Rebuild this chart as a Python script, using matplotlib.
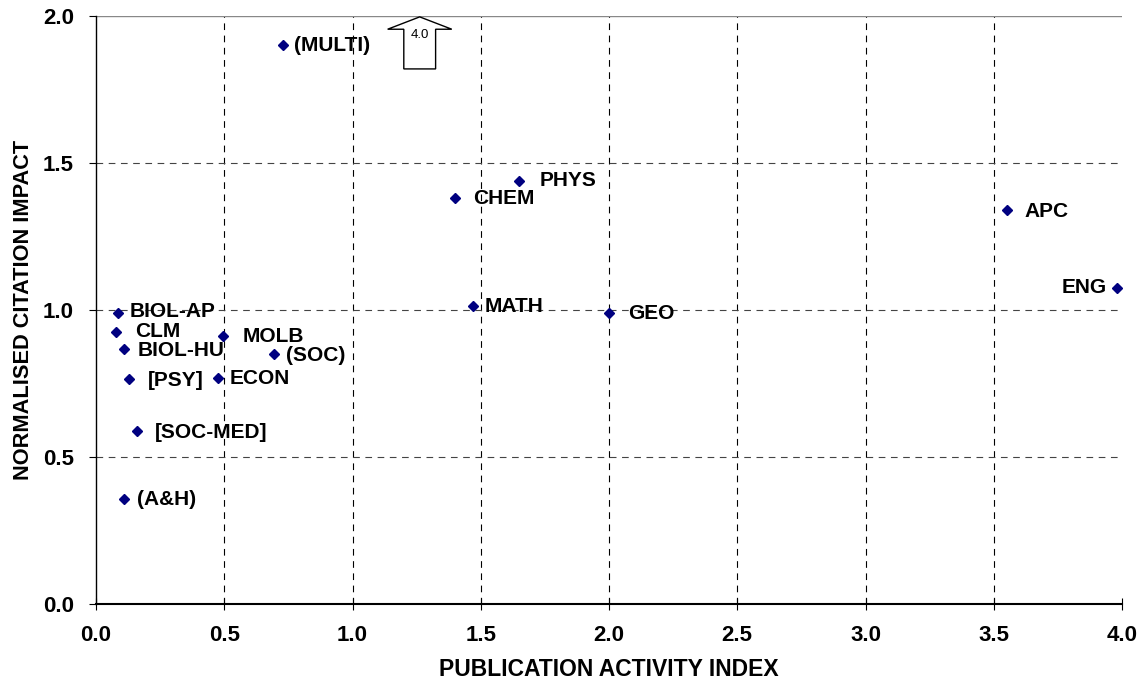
import matplotlib.pyplot as plt
from matplotlib.patches import Polygon

plt.rcParams['font.family'] = ['Liberation Sans', 'DejaVu Sans']

fields = ["(MULTI)", "PHYS", "CHEM", "APC", "ENG", "MATH", "GEO",
          "BIOL-AP", "CLM", "BIOL-HU", "[PSY]", "[SOC-MED]", "(A&H)",
          "MOLB", "ECON", "(SOC)"]
activity = [0.73, 1.65, 1.40, 3.55, 3.98, 1.47, 2.00,
            0.086, 0.077, 0.11, 0.13, 0.158, 0.11,
            0.496, 0.474, 0.695]
impact = [1.90, 1.44, 1.38, 1.34, 1.075, 1.015, 0.99,
          0.99, 0.926, 0.866, 0.765, 0.588, 0.356,
          0.912, 0.768, 0.849]

# label offsets in pixels (dx, dy) from the marker
offsets = {"(MULTI)": (11, 0), "PHYS": (20, 0), "CHEM": (18, 0), "APC": (18, -1),
           "ENG": (-10, 0), "MATH": (12, -1), "GEO": (19, -1), "BIOL-AP": (12, 1),
           "CLM": (19, 0), "BIOL-HU": (13, -1), "[PSY]": (19, -1), "[SOC-MED]": (18, -1),
           "(A&H)": (13, 0), "MOLB": (19, -1), "ECON": (12, 0), "(SOC)": (12, -1)}

fig = plt.figure(figsize=(11.46, 6.94), dpi=100)
ax = fig.add_axes([96 / 1146, 90 / 694, 1026 / 1146, 588 / 694])

ax.set_xlim(0, 4.0)
ax.set_ylim(0, 2.0)

for gx in [0.5, 1.0, 1.5, 2.0, 2.5, 3.0, 3.5]:
    ax.axvline(gx, color='black', linestyle=(0, (6, 5)), linewidth=0.8, zorder=1)
for gy in [0.5, 1.0, 1.5]:
    ax.axhline(gy, color='#444444', linestyle=(0, (6, 5)), linewidth=0.8, zorder=1)
ax.axhline(2.0, color='#888888', linewidth=1.0, zorder=1)

ax.plot(activity, impact, linestyle='none', marker='D', markersize=5,
        color='#000080', zorder=3, clip_on=False)

for name, x, y in zip(fields, activity, impact):
    dx, dy = offsets[name]
    ha = 'right' if dx < 0 else 'left'
    ax.annotate(name, (x, y), xytext=(dx * 0.72, dy * 0.72), textcoords='offset points',
                ha=ha, va='center', fontsize=15, fontweight='bold', zorder=4)

# block arrow marking the off-scale value
ax_cx, shaft_w, head_w = 1.262, 0.062, 0.125
top, base, bottom = 1.997, 1.955, 1.82
arrow = Polygon([(ax_cx - shaft_w, bottom), (ax_cx - shaft_w, base), (ax_cx - head_w, base),
                 (ax_cx, top), (ax_cx + head_w, base), (ax_cx + shaft_w, base),
                 (ax_cx + shaft_w, bottom)], closed=True, facecolor='white',
                edgecolor='black', linewidth=1.0, zorder=5, clip_on=False)
ax.add_patch(arrow)
ax.text(ax_cx, 1.935, "4.0", ha='center', va='center', fontsize=9.5, zorder=6)

ax.spines['top'].set_visible(False)
ax.spines['right'].set_visible(False)
ax.spines['left'].set_linewidth(1.0)
ax.spines['bottom'].set_linewidth(1.5)

ax.set_xticks([0.0, 0.5, 1.0, 1.5, 2.0, 2.5, 3.0, 3.5, 4.0])
ax.set_yticks([0.0, 0.5, 1.0, 1.5, 2.0])
ax.set_xticklabels([f"{v:.1f}" for v in ax.get_xticks()], fontweight='bold', fontsize=16)
ax.set_yticklabels([f"{v:.1f}" for v in ax.get_yticks()], fontweight='bold', fontsize=16)
ax.tick_params(axis='x', direction='inout', length=8, pad=11)
ax.tick_params(axis='y', direction='out', length=5, pad=11)

ax.set_xlabel("PUBLICATION ACTIVITY INDEX", fontsize=16.5, fontweight='bold', labelpad=9)
ax.set_ylabel("NORMALISED CITATION IMPACT", fontsize=15.7, fontweight='bold', labelpad=6)

fig.savefig("out.png", dpi=100)
